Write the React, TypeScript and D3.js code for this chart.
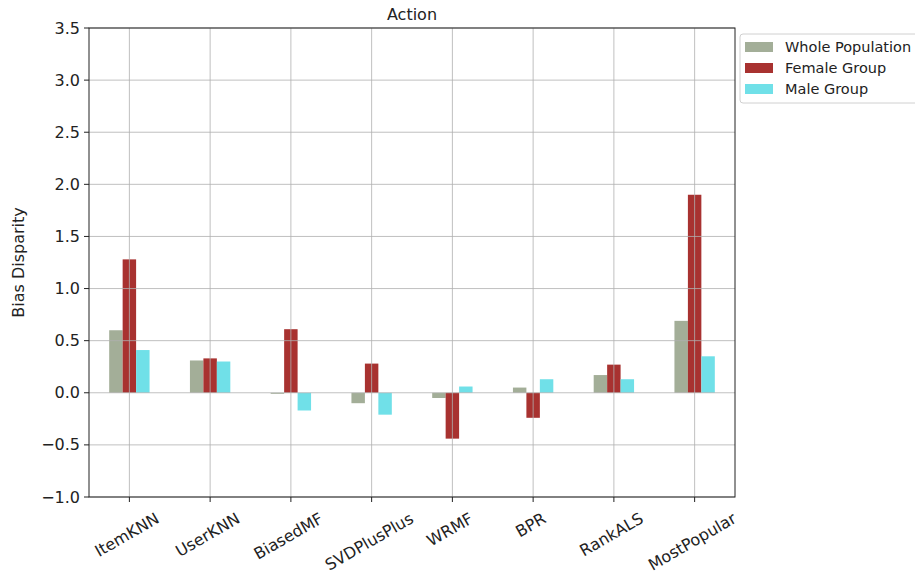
import React, { useEffect, useRef } from "react";
import * as d3 from "d3";

const categories = ["ItemKNN", "UserKNN", "BiasedMF", "SVDPlusPlus", "WRMF", "BPR", "RankALS", "MostPopular"];
const seriesNames = ["Whole Population", "Female Group", "Male Group"];
const wholePopulation = [0.6, 0.31, -0.01, -0.1, -0.05, 0.05, 0.17, 0.69];
const femaleGroup = [1.28, 0.33, 0.61, 0.28, -0.44, -0.24, 0.27, 1.9];
const maleGroup = [0.41, 0.3, -0.17, -0.21, 0.06, 0.13, 0.13, 0.35];
const yTicks = [-1.0, -0.5, 0.0, 0.5, 1.0, 1.5, 2.0, 2.5, 3.0, 3.5];
const colors = ["#a3ae98", "#a83230", "#70e0e8"];

export default function App() {
  const ref = useRef<SVGSVGElement>(null);
  useEffect(() => {
    const svg = d3.select(ref.current);
    svg.selectAll("*").remove();
    const L = 89, R = 735, T = 28, B = 497;
    const font = "DejaVu Sans, sans-serif";
    const fs = 16;
    const x = d3.scaleLinear().domain([-0.5, categories.length - 0.5]).range([L, R]);
    const y = d3.scaleLinear().domain([-1, 3.5]).range([B, T]);
    const series = [wholePopulation, femaleGroup, maleGroup];
    const bw = 0.5 / 3;

    svg.append("rect").attr("x", L).attr("y", T).attr("width", R - L).attr("height", B - T).attr("fill", "#fff");

    series.forEach((vals, si) => {
      svg.append("g").selectAll("rect").data(vals).join("rect")
        .attr("x", (_, i) => x(i - 0.25 + si * bw))
        .attr("width", x(bw) - x(0))
        .attr("y", (d) => y(Math.max(0, d)))
        .attr("height", (d) => Math.abs(y(d) - y(0)))
        .attr("fill", colors[si]);
    });

    const grid = svg.append("g").attr("stroke", "#b0b0b0").attr("stroke-width", 1).attr("stroke-opacity", 0.8);
    yTicks.forEach((t) => {
      grid.append("line").attr("x1", L).attr("x2", R).attr("y1", y(t)).attr("y2", y(t));
    });
    categories.forEach((_, i) => {
      grid.append("line").attr("x1", x(i)).attr("x2", x(i)).attr("y1", T).attr("y2", B);
    });

    svg.append("rect").attr("x", L).attr("y", T).attr("width", R - L).attr("height", B - T)
      .attr("fill", "none").attr("stroke", "#222").attr("stroke-width", 1);

    yTicks.forEach((t) => {
      svg.append("line").attr("x1", L - 5).attr("x2", L).attr("y1", y(t)).attr("y2", y(t)).attr("stroke", "#222");
      svg.append("text").attr("x", L - 9).attr("y", y(t)).attr("dy", "0.35em")
        .attr("text-anchor", "end").attr("font-family", font).attr("font-size", fs).attr("fill", "#222")
        .text(t < 0 ? "\u2212" + Math.abs(t).toFixed(1) : t.toFixed(1));
    });

    categories.forEach((c, i) => {
      svg.append("line").attr("x1", x(i)).attr("x2", x(i)).attr("y1", B).attr("y2", B + 5).attr("stroke", "#222");
      const txt = svg.append("text").attr("font-family", font).attr("font-size", fs).attr("fill", "#222")
        .attr("text-anchor", "middle").attr("dy", "0.35em").text(c);
      const w = (txt.node() as SVGTextElement).getComputedTextLength();
      const h = fs;
      const a = (30 * Math.PI) / 180;
      const halfH = (w * Math.sin(a) + h * Math.cos(a)) / 2;
      const cy = B + 13 + halfH;
      txt.attr("transform", `translate(${x(i) - 2.5},${cy}) rotate(-30)`);
    });

    svg.append("text").attr("x", (L + R) / 2).attr("y", 20).attr("text-anchor", "middle")
      .attr("font-family", font).attr("font-size", fs).attr("fill", "#222").text("Action");

    svg.append("text").attr("transform", `translate(24,${(T + B) / 2}) rotate(-90)`)
      .attr("text-anchor", "middle").attr("font-family", font).attr("font-size", fs).attr("fill", "#222")
      .text("Bias Disparity");

    const lg = svg.append("g");
    lg.append("rect").attr("x", 740).attr("y", 34).attr("width", 190).attr("height", 69).attr("rx", 3)
      .attr("fill", "#fff").attr("stroke", "#d0d0d0");
    seriesNames.forEach((n, i) => {
      const yy = 47 + i * 21;
      lg.append("rect").attr("x", 745).attr("y", yy - 5).attr("width", 28).attr("height", 10).attr("fill", colors[i]);
      lg.append("text").attr("x", 785).attr("y", yy).attr("dy", "0.35em").attr("font-family", font)
        .attr("font-size", 14.5).attr("fill", "#222").text(n);
    });
  }, []);
  return (
    <svg ref={ref} width={915} height={577} style={{ position: "absolute", left: 0, top: 0, background: "#fff" }} />
  );
}
